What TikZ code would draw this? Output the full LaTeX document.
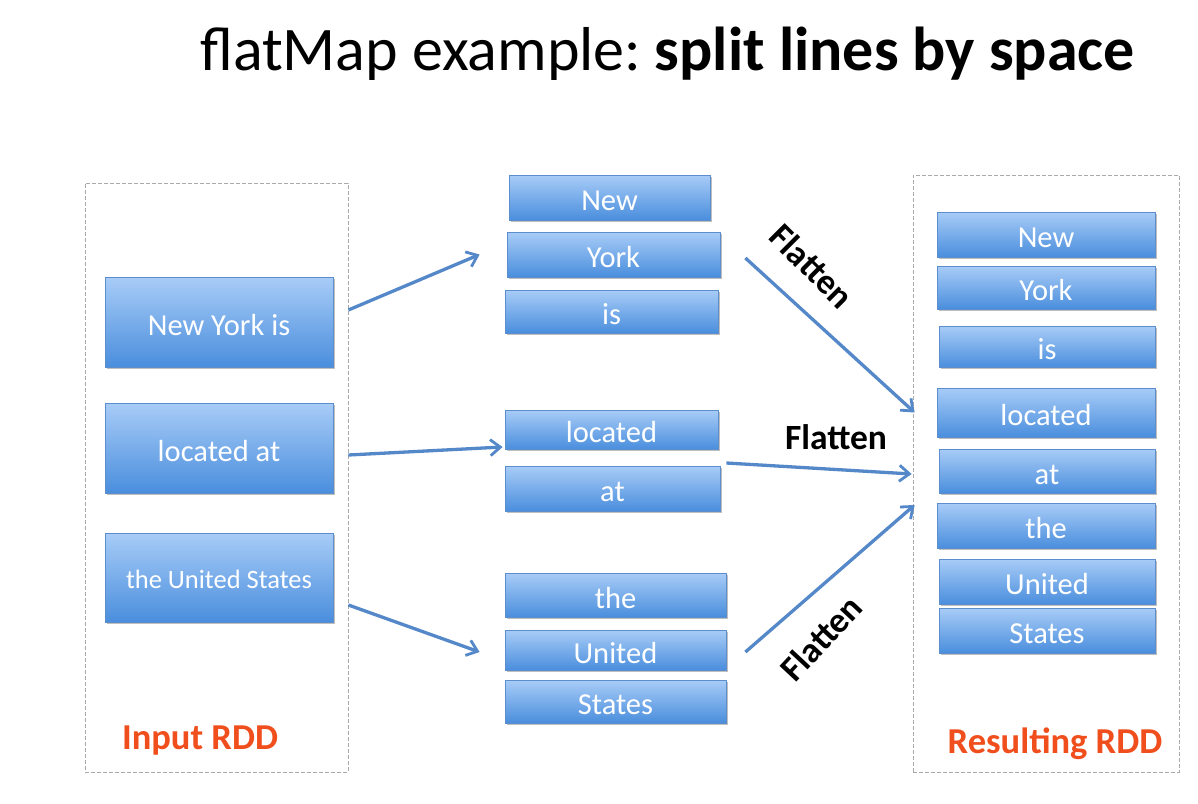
\documentclass[tikz,border=0pt]{standalone}
\usepackage{fontspec}
\setmainfont{Carlito}
\usetikzlibrary{arrows.meta,shadows}
\definecolor{boxtop}{RGB}{168,204,247}
\definecolor{boxbot}{RGB}{74,142,221}
\definecolor{boxline}{RGB}{92,142,205}
\definecolor{arrblue}{RGB}{84,136,200}
\definecolor{rddred}{RGB}{240,78,28}
\definecolor{dashgray}{RGB}{170,170,170}
\tikzset{
  wbox/.style={draw=boxline, line width=0.8pt, top color=boxtop, bottom color=boxbot,
    text=white, inner sep=0pt, anchor=center, text height=26pt, text depth=0pt,
    drop shadow={shadow xshift=1.5pt, shadow yshift=-2pt, opacity=0.25, fill=black}},
  wtext/.style={font=\fontsize{30.5}{33}\selectfont},
  arr/.style={draw=arrblue, line width=3.3pt, -{Straight Barb[length=10pt,width=16pt,line width=2.8pt]}},
  flat/.style={font=\fontsize{35.5}{38}\selectfont\bfseries, text=black, inner sep=0pt},
  rddlabel/.style={font=\fontsize{36.5}{40}\selectfont\bfseries, text=rddred, inner sep=0pt},
  group/.style={draw=dashgray, line width=1pt, dash pattern=on 4pt off 2pt},
}
\begin{document}
\begin{tikzpicture}[x=1pt,y=-1pt]
\useasboundingbox (0,0) rectangle (1198,803);
\fill[white] (0,0) rectangle (1198,803);

% title
\node[inner sep=0pt, anchor=base west] (title) at (200,70)
  {\fontsize{62}{70}\selectfont flatMap example:\hspace{0.22em}\textbf{split lines by space}};

% group frames
\node[group, minimum width=263pt, minimum height=589pt, inner sep=0pt] (gin) at (216.5,477.5) {};
\node[group, minimum width=266pt, minimum height=597pt, inner sep=0pt] (gout) at (1046,473.5) {};

% input boxes
\node[wbox, wtext, minimum width=228pt, minimum height=90pt] (l1) at (219,322) {New York is};
\node[wbox, wtext, minimum width=228pt, minimum height=90pt] (l2) at (219,448) {located at};
\node[wbox, minimum width=228pt, minimum height=89pt, text height=21pt, font=\fontsize{26.5}{29}\selectfont] (l3) at (219,577.5) {the United States};

% middle boxes
\node[wbox, wtext, minimum width=201pt, minimum height=45pt] (mNew) at (609.5,197.5) {New};
\node[wbox, wtext, minimum width=213pt, minimum height=45pt] (mYork) at (613.5,254.5) {York};
\node[wbox, wtext, minimum width=213pt, minimum height=43pt] (mis) at (611.5,311.5) {is};
\node[wbox, wtext, minimum width=213pt, minimum height=39pt] (mlocated) at (611.5,429.5) {located};
\node[wbox, wtext, minimum width=215pt, minimum height=45pt] (mat) at (612.5,488.5) {at};
\node[wbox, wtext, minimum width=221pt, minimum height=44pt] (mthe) at (615.5,595) {the};
\node[wbox, wtext, minimum width=221pt, minimum height=40pt] (mUnited) at (615.5,650) {United};
\node[wbox, wtext, minimum width=221pt, minimum height=43pt] (mStates) at (615.5,701.5) {States};

% result boxes
\node[wbox, wtext, minimum width=218pt, minimum height=45pt] (rNew) at (1046,234.5) {New};
\node[wbox, wtext, minimum width=218pt, minimum height=43pt] (rYork) at (1046,287.5) {York};
\node[wbox, wtext, minimum width=216pt, minimum height=41pt] (ris) at (1047,346.5) {is};
\node[wbox, wtext, minimum width=218pt, minimum height=49pt] (rlocated) at (1046,412.5) {located};
\node[wbox, wtext, minimum width=216pt, minimum height=44pt] (rat) at (1047,471) {at};
\node[wbox, wtext, minimum width=218pt, minimum height=45pt] (rthe) at (1046,525.5) {the};
\node[wbox, wtext, minimum width=216pt, minimum height=45pt] (rUnited) at (1047,581.5) {United};
\node[wbox, wtext, minimum width=216pt, minimum height=45pt] (rStates) at (1047,630.5) {States};

% labels
\node[rddlabel] (inlab) at (200,741) {Input RDD};
\node[rddlabel] (outlab) at (1055,744) {Resulting RDD};

% split arrows
\draw[arr] ([xshift=15pt,yshift=12pt]l1.east) -- ([xshift=-27pt]mYork.west);
\draw[arr] ([xshift=15pt,yshift=-7pt]l2.east) -- ([xshift=-2pt,yshift=-17.5pt]mlocated.west);
\draw[arr] ([xshift=15pt,yshift=-27.5pt]l3.east) -- ([xshift=-25pt,yshift=-2pt]mUnited.west);

% flatten arrows
\draw[arr] ([xshift=25pt,yshift=-3.5pt]mYork.east) -- ([xshift=-22pt]rlocated.west);
\draw[arr] ([xshift=6pt,yshift=25.5pt]mat.east) -- ([xshift=-27pt,yshift=-3pt]rat.west);
\draw[arr] ([xshift=19pt,yshift=-2pt]mUnited.east) -- ([xshift=-22pt,yshift=20.5pt]rthe.west);

\node[flat, rotate=-45] (f1) at (812,266) {Flatten};
\node[flat] (f2) at (836,437) {Flatten};
\node[flat, rotate=47] (f3) at (821,638) {Flatten};
\end{tikzpicture}
\end{document}
